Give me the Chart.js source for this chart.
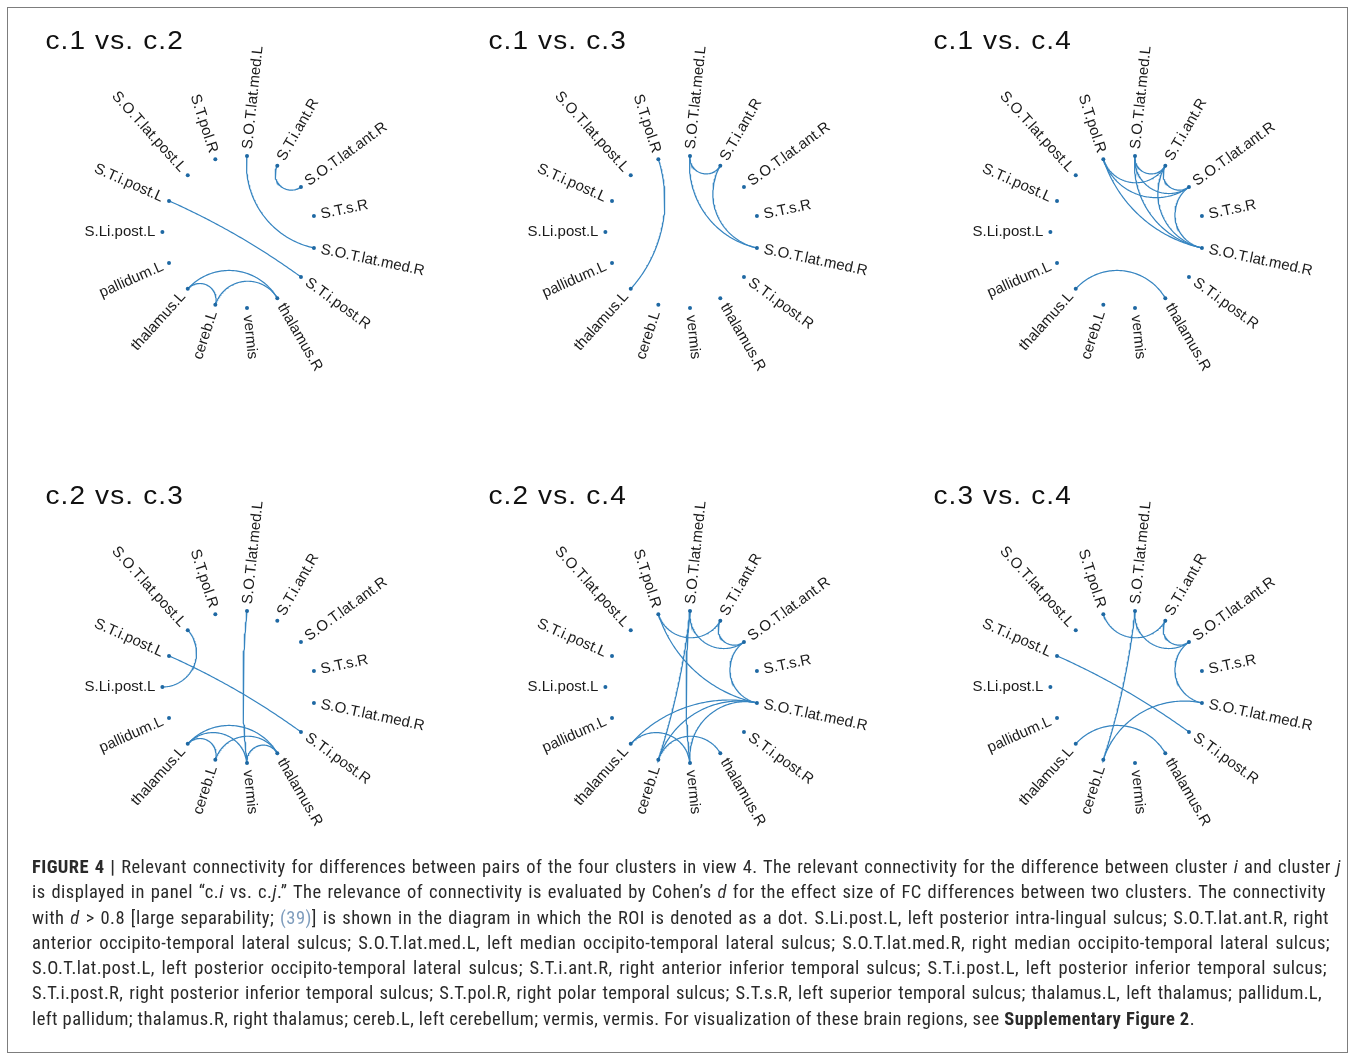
<!DOCTYPE html>
<html>
<head>
<meta charset="utf-8">
<title>Relevant connectivity between cluster pairs</title>
<script src="https://cdn.jsdelivr.net/npm/chart.js@4.4.1/dist/chart.umd.min.js"></script>
<style>
  html, body { margin: 0; padding: 0; background: #fff; }
  body { width: 1355px; height: 1056px; position: relative; overflow: hidden; }
  #frame { position: absolute; left: 7px; top: 7px; width: 1341px; height: 1046px;
           border: 1.5px solid #7d7d7d; box-sizing: border-box; }
  .panel { position: absolute; }
  #caption { position: absolute; left: 32px; top: 855px; width: 1312px;
             font-family: "Liberation Sans Narrow", "Roboto Condensed", "Liberation Sans", Arial, sans-serif;
             font-size: 18.5px; line-height: 25.3px; color: #2a2a2a; }
  #caption .ln { white-space: nowrap; }
  #caption .ref { color: #7f9dbd; }
</style>
</head>
<body>
<div id="frame"></div>
<canvas class="panel" id="p0" width="444" height="420" style="left:17px;top:22px"></canvas>
<canvas class="panel" id="p1" width="444" height="420" style="left:460px;top:22px"></canvas>
<canvas class="panel" id="p2" width="444" height="420" style="left:905px;top:22px"></canvas>
<canvas class="panel" id="p3" width="444" height="420" style="left:17px;top:477px"></canvas>
<canvas class="panel" id="p4" width="444" height="420" style="left:460px;top:477px"></canvas>
<canvas class="panel" id="p5" width="444" height="420" style="left:905px;top:477px"></canvas>

<div id="caption">
  <div class="ln" data-w="1309"><b>FIGURE 4 |</b> Relevant connectivity for differences between pairs of the four clusters in view 4. The relevant connectivity for the difference between cluster <i>i</i> and cluster <i>j</i></div>
  <div class="ln" data-w="1294">is displayed in panel “c.<i>i</i> vs. c.<i>j</i>.” The relevance of connectivity is evaluated by Cohen’s <i>d</i> for the effect size of FC differences between two clusters. The connectivity</div>
  <div class="ln" data-w="1297">with <i>d</i> &gt; 0.8 [large separability; <span class="ref">(39)</span>] is shown in the diagram in which the ROI is denoted as a dot. S.Li.post.L, left posterior intra-lingual sulcus; S.O.T.lat.ant.R, right</div>
  <div class="ln" data-w="1298">anterior occipito-temporal lateral sulcus; S.O.T.lat.med.L, left median occipito-temporal lateral sulcus; S.O.T.lat.med.R, right median occipito-temporal lateral sulcus;</div>
  <div class="ln" data-w="1295">S.O.T.lat.post.L, left posterior occipito-temporal lateral sulcus; S.T.i.ant.R, right anterior inferior temporal sulcus; S.T.i.post.L, left posterior inferior temporal sulcus;</div>
  <div class="ln" data-w="1290">S.T.i.post.R, right posterior inferior temporal sulcus; S.T.pol.R, right polar temporal sulcus; S.T.s.R, left superior temporal sulcus; thalamus.L, left thalamus; pallidum.L,</div>
  <div class="ln">left pallidum; thalamus.R, right thalamus; cereb.L, left cerebellum; vermis, vermis. For visualization of these brain regions, see <b>Supplementary Figure 2</b>.</div>
</div>

<script>
// ROIs in circular order, starting at the left and running clockwise.
const regions = [
  'S.Li.post.L', 'S.T.i.post.L', 'S.O.T.lat.post.L', 'S.T.pol.R', 'S.O.T.lat.med.L',
  'S.T.i.ant.R', 'S.O.T.lat.ant.R', 'S.T.s.R', 'S.O.T.lat.med.R', 'S.T.i.post.R',
  'thalamus.R', 'vermis', 'cereb.L', 'thalamus.L', 'pallidum.L'
];

const panelTitles = ['c.1 vs. c.2', 'c.1 vs. c.3', 'c.1 vs. c.4', 'c.2 vs. c.3', 'c.2 vs. c.4', 'c.3 vs. c.4'];

// Connections with d > 0.8 for each pair of clusters.
const edgesC1C2 = [
  ['S.O.T.lat.med.L', 'S.O.T.lat.med.R'],
  ['S.T.i.ant.R', 'S.O.T.lat.ant.R'],
  ['S.T.i.post.L', 'S.T.i.post.R'],
  ['thalamus.L', 'thalamus.R'],
  ['thalamus.L', 'cereb.L'],
  ['cereb.L', 'thalamus.R']
];
const edgesC1C3 = [
  ['S.T.pol.R', 'thalamus.L'],
  ['S.O.T.lat.med.L', 'S.T.i.ant.R'],
  ['S.O.T.lat.med.L', 'S.O.T.lat.med.R'],
  ['S.T.i.ant.R', 'S.O.T.lat.med.R']
];
const edgesC1C4 = [
  ['S.T.pol.R', 'S.T.i.ant.R'],
  ['S.T.pol.R', 'S.O.T.lat.ant.R'],
  ['S.T.pol.R', 'S.O.T.lat.med.R'],
  ['S.O.T.lat.med.L', 'S.T.i.ant.R'],
  ['S.O.T.lat.med.L', 'S.O.T.lat.ant.R'],
  ['S.O.T.lat.med.L', 'S.O.T.lat.med.R'],
  ['S.T.i.ant.R', 'S.O.T.lat.ant.R'],
  ['S.T.i.ant.R', 'S.O.T.lat.med.R'],
  ['S.O.T.lat.ant.R', 'S.O.T.lat.med.R'],
  ['thalamus.L', 'thalamus.R']
];
const edgesC2C3 = [
  ['S.O.T.lat.post.L', 'S.Li.post.L'],
  ['S.T.i.post.L', 'S.T.i.post.R'],
  ['S.O.T.lat.med.L', 'vermis'],
  ['thalamus.L', 'thalamus.R'],
  ['thalamus.L', 'cereb.L'],
  ['thalamus.L', 'vermis'],
  ['cereb.L', 'thalamus.R'],
  ['vermis', 'thalamus.R']
];
const edgesC2C4 = [
  ['S.T.pol.R', 'S.T.i.ant.R'],
  ['S.T.pol.R', 'S.O.T.lat.med.R'],
  ['S.O.T.lat.med.L', 'S.O.T.lat.ant.R'],
  ['S.T.i.ant.R', 'S.O.T.lat.ant.R'],
  ['S.O.T.lat.med.L', 'cereb.L'],
  ['S.O.T.lat.med.L', 'vermis'],
  ['S.O.T.lat.ant.R', 'S.O.T.lat.med.R'],
  ['S.O.T.lat.med.R', 'thalamus.L'],
  ['S.O.T.lat.med.R', 'cereb.L'],
  ['S.O.T.lat.med.R', 'vermis'],
  ['thalamus.L', 'vermis'],
  ['cereb.L', 'thalamus.R']
];
const edgesC3C4 = [
  ['S.T.pol.R', 'S.T.i.ant.R'],
  ['S.O.T.lat.med.L', 'S.O.T.lat.ant.R'],
  ['S.T.i.ant.R', 'S.O.T.lat.ant.R'],
  ['S.O.T.lat.med.L', 'cereb.L'],
  ['S.O.T.lat.ant.R', 'S.O.T.lat.med.R'],
  ['S.T.i.post.L', 'S.T.i.post.R'],
  ['S.O.T.lat.med.R', 'cereb.L'],
  ['thalamus.L', 'thalamus.R']
];

const panelEdges = [edgesC1C2, edgesC1C3, edgesC1C4, edgesC2C3, edgesC2C4, edgesC3C4];

// Drawing constants
const RADIUS_PX = 78;          // circle radius in pixels
const CANVAS_W = 444, CANVAS_H = 420;
const LABEL_GAP = 7;
const LINE_COLOR = '#3584c0';
const DOT_COLOR = '#1e68a3';

// Angle of ROI k (radians, counter-clockwise from +x)
function nodeAngle(k) {
  const step = 360 / regions.length;
  return (180 - step * k) * Math.PI / 180;
}

// Arc orthogonal to the unit circle joining two ROIs
function connectionPath(nameA, nameB, n) {
  const a = nodeAngle(regions.indexOf(nameA));
  const b = nodeAngle(regions.indexOf(nameB));
  const ax = Math.cos(a), ay = Math.sin(a), bx = Math.cos(b), by = Math.sin(b);
  let d = b - a;
  d = Math.atan2(Math.sin(d), Math.cos(d));
  const h = Math.abs(d) / 2;
  const pts = [];
  if (Math.abs(h - Math.PI / 2) < 1e-3) {
    for (let i = 0; i <= n; i++) {
      const t = i / n;
      pts.push({ x: ax + (bx - ax) * t, y: ay + (by - ay) * t });
    }
    return pts;
  }
  const m = a + d / 2;
  const dist = 1 / Math.cos(h), rho = Math.tan(h);
  const cx = dist * Math.cos(m), cy = dist * Math.sin(m);
  const t0 = Math.atan2(ay - cy, ax - cx);
  let dt = Math.atan2(by - cy, bx - cx) - t0;
  dt = Math.atan2(Math.sin(dt), Math.cos(dt));
  for (let i = 0; i <= n; i++) {
    const t = t0 + dt * i / n;
    pts.push({ x: cx + rho * Math.cos(t), y: cy + rho * Math.sin(t) });
  }
  return pts;
}

// ROI names and panel title
const roiLabels = {
  id: 'roiLabels',
  afterDatasetsDraw(chart, args, opts) {
    const { ctx } = chart;
    const xs = chart.scales.x, ys = chart.scales.y;
    ctx.save();
    ctx.font = '15px "Liberation Sans", Arial, sans-serif';
    ctx.fillStyle = '#1a1a1a';
    ctx.textBaseline = 'middle';
    regions.forEach((name, k) => {
      const th = nodeAngle(k);
      const px = xs.getPixelForValue(Math.cos(th));
      const py = ys.getPixelForValue(Math.sin(th));
      ctx.save();
      ctx.translate(px, py);
      if (Math.cos(th) > 0) {
        ctx.rotate(-th);
        ctx.textAlign = 'left';
        ctx.fillText(name, LABEL_GAP, 0);
      } else {
        ctx.rotate(-th + Math.PI);
        ctx.textAlign = 'right';
        ctx.fillText(name, -LABEL_GAP, 0);
      }
      ctx.restore();
    });
    const ox = xs.getPixelForValue(0), oy = ys.getPixelForValue(0);
    ctx.save();
    ctx.translate(ox - 193.5, oy - 183);
    ctx.scale(1.12, 1);
    ctx.font = '25px "Liberation Sans", Arial, sans-serif';
    ctx.fillStyle = '#111';
    ctx.textAlign = 'left';
    ctx.textBaseline = 'alphabetic';
    if ('letterSpacing' in ctx) ctx.letterSpacing = '1px';
    ctx.fillText(opts.title, 0, 0);
    ctx.restore();
    ctx.restore();
  }
};

panelTitles.forEach((title, p) => {
  const edgeSets = panelEdges[p].map(([a, b]) => ({
    data: connectionPath(a, b, 80),
    showLine: true,
    pointRadius: 0,
    borderColor: LINE_COLOR,
    borderWidth: 1.2,
    fill: false,
    order: 2
  }));
  const nodes = {
    data: regions.map((r, k) => ({ x: Math.cos(nodeAngle(k)), y: Math.sin(nodeAngle(k)) })),
    showLine: false,
    pointRadius: 2,
    pointBorderWidth: 0,
    pointBackgroundColor: DOT_COLOR,
    order: 1
  };
  const hx = CANVAS_W / 2 / RADIUS_PX, hy = CANVAS_H / 2 / RADIUS_PX;
  new Chart(document.getElementById('p' + p), {
    type: 'scatter',
    data: { datasets: [...edgeSets, nodes] },
    options: {
      responsive: false,
      maintainAspectRatio: false,
      animation: false,
      events: [],
      layout: { padding: 0 },
      scales: {
        x: { type: 'linear', display: false, min: -hx, max: hx },
        y: { type: 'linear', display: false, min: -hy, max: hy }
      },
      plugins: {
        legend: { display: false },
        tooltip: { enabled: false },
        roiLabels: { title: title }
      }
    },
    plugins: [roiLabels]
  });
});

// Spread the full caption lines to their set widths; the closing line
// keeps the mean letter spacing of the others.
function justifyCaption() {
  const lines = Array.from(document.querySelectorAll('#caption .ln'));
  const spacings = [];
  lines.forEach(el => {
    el.style.wordSpacing = '0px';
    el.style.letterSpacing = '0px';
  });
  lines.forEach(el => {
    const target = parseFloat(el.dataset.w);
    if (!target) return;
    el.style.display = 'inline-block';
    const w = el.getBoundingClientRect().width;
    const text = el.textContent.trim();
    const spaces = (text.match(/ /g) || []).length;
    const ls = Math.max(0, (target - w) * 0.7 / text.length);
    spacings.push(ls);
    el.style.letterSpacing = ls + 'px';
    const w2 = el.getBoundingClientRect().width;
    if (spaces > 0) el.style.wordSpacing = ((target - w2) / spaces) + 'px';
    el.style.display = 'block';
  });
  const mean = spacings.length ? spacings.reduce((s, v) => s + v, 0) / spacings.length : 0;
  lines.forEach(el => {
    if (!el.dataset.w) el.style.letterSpacing = mean + 'px';
  });
}
justifyCaption();
if (document.fonts && document.fonts.ready) document.fonts.ready.then(justifyCaption);
</script>
</body>
</html>
